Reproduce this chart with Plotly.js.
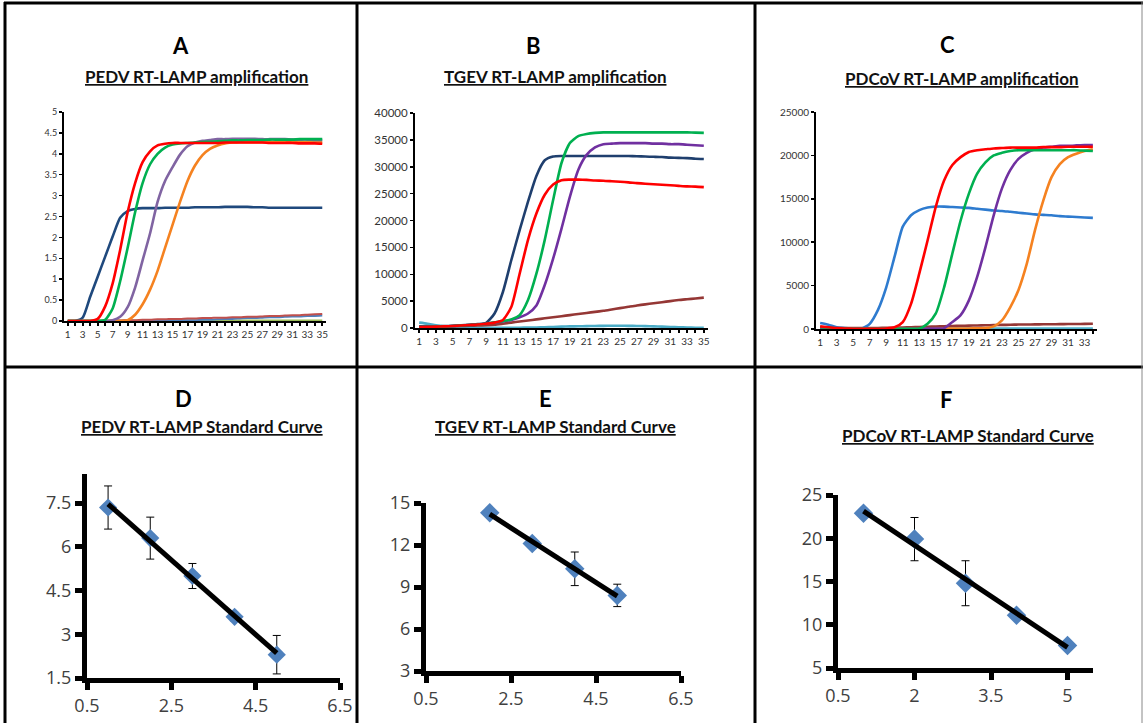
<!DOCTYPE html>
<html>
<head>
<meta charset="utf-8">
<script src="https://cdn.plot.ly/plotly-3.0.1.min.js"></script>
<style>html,body{margin:0;padding:0;background:#fff;}#chart{width:1147px;height:723px;}</style>
</head>
<body>
<div id="chart"></div>
<script>
// ---------- DATA ----------
// Panel A: PEDV RT-LAMP amplification (cycles 1..35)
const cyclesA = [1,2,3,4,5,6,7,8,9,10,11,12,13,14,15,16,17,18,19,20,21,22,23,24,25,26,27,28,29,30,31,32,33,34,35];
const A_navy   = [0,0,0.08,0.58,1.06,1.54,2.02,2.47,2.63,2.68,2.7,2.7,2.7,2.71,2.71,2.71,2.71,2.72,2.72,2.72,2.72,2.73,2.73,2.73,2.73,2.72,2.72,2.71,2.71,2.71,2.71,2.71,2.71,2.71,2.71];
const A_red    = [0,0,0,0,0.05,0.35,0.9,1.7,2.6,3.3,3.8,4.06,4.2,4.24,4.26,4.26,4.26,4.26,4.26,4.26,4.26,4.27,4.27,4.27,4.27,4.27,4.27,4.26,4.26,4.26,4.26,4.25,4.25,4.25,4.24];
const A_green  = [0,0,0,0,0,0.03,0.3,0.95,1.75,2.6,3.3,3.75,4.0,4.15,4.22,4.25,4.26,4.27,4.28,4.29,4.3,4.31,4.32,4.32,4.33,4.33,4.33,4.34,4.34,4.34,4.34,4.35,4.35,4.35,4.35];
const A_purple = [0,0,0,0,0,0,0.02,0.1,0.33,0.8,1.45,2.1,2.85,3.35,3.68,3.98,4.18,4.27,4.31,4.33,4.35,4.35,4.36,4.36,4.36,4.36,4.35,4.35,4.35,4.35,4.34,4.34,4.34,4.33,4.33];
const A_orange = [0,0,0,0,0,0,0,0,0.02,0.15,0.4,0.75,1.2,1.75,2.3,2.85,3.35,3.72,3.97,4.12,4.2,4.25,4.27,4.28,4.28,4.28,4.28,4.28,4.28,4.28,4.28,4.28,4.28,4.28,4.28];
const A_brown  = [0,0,0,0,0,0,0.01,0.01,0.02,0.02,0.03,0.03,0.04,0.04,0.05,0.05,0.06,0.06,0.07,0.07,0.08,0.08,0.09,0.09,0.1,0.1,0.11,0.12,0.12,0.13,0.14,0.14,0.15,0.16,0.17];
const A_steel  = [0,0,0,0,0,0,0,0,0,0,0,0,0,0,0.01,0.01,0.02,0.02,0.03,0.03,0.04,0.05,0.05,0.06,0.07,0.07,0.08,0.09,0.09,0.1,0.11,0.11,0.12,0.12,0.13];
const A_lgreen = [0.01,0.01,0.01,0.01,0.01,0.01,0.01,0.01,0.01,0.01,0.01,0.01,0.01,0.01,0.01,0.01,0.01,0.01,0.01,0.01,0.01,0.01,0.01,0.01,0.01,0.01,0.01,0.01,0.01,0.01,0.01,0.01,0.01,0.01,0.01];
const yTicksA = [0,0.5,1,1.5,2,2.5,3,3.5,4,4.5,5];

// Panel B: TGEV RT-LAMP amplification (cycles 1..35)
const cyclesB = [1,2,3,4,5,6,7,8,9,10,11,12,13,14,15,16,17,18,19,20,21,22,23,24,25,26,27,28,29,30,31,32,33,34,35];
const B_navy   = [300,300,320,350,400,480,600,720,950,2700,6700,12600,18200,23500,28300,31200,31900,32000,32000,32000,32000,32000,32000,32000,32000,32000,31950,31900,31850,31800,31700,31650,31600,31500,31450];
const B_red    = [200,220,250,300,380,470,560,650,800,1000,1500,3900,10100,16400,21300,24800,26700,27500,27600,27600,27550,27450,27400,27300,27200,27100,26950,26850,26750,26650,26550,26450,26350,26300,26200];
const B_green  = [200,220,250,300,380,470,560,650,800,1050,1300,1600,2400,5200,10100,16400,23800,30700,34400,35700,36100,36300,36400,36400,36400,36400,36400,36400,36400,36400,36400,36400,36400,36350,36300];
const B_purple = [200,220,250,300,380,470,560,650,800,1000,1200,1500,2000,2700,4200,8000,12900,18500,24400,29400,32200,33600,34200,34300,34400,34400,34400,34400,34300,34300,34200,34200,34100,34000,33900];
const B_brown  = [200,220,250,280,320,370,420,470,520,620,800,1000,1200,1400,1600,1800,2000,2200,2400,2600,2800,3000,3200,3450,3700,3950,4200,4400,4600,4800,5000,5200,5350,5500,5650];
const B_teal   = [1000,800,500,300,200,120,80,50,30,20,20,30,50,80,100,150,200,250,300,320,350,380,400,420,420,400,380,350,300,250,200,150,100,50,30];
const yTicksB = [0,5000,10000,15000,20000,25000,30000,35000,40000];

// Panel C: PDCoV RT-LAMP amplification (cycles 1..34)
const cyclesC = [1,2,3,4,5,6,7,8,9,10,11,12,13,14,15,16,17,18,19,20,21,22,23,24,25,26,27,28,29,30,31,32,33,34];
const C_blue   = [700,500,200,100,50,20,600,2200,4800,8300,11800,13100,13700,14000,14100,14100,14050,14000,13950,13850,13750,13650,13600,13500,13400,13300,13200,13150,13100,13000,12950,12900,12850,12800];
const C_red    = [300,200,100,50,30,20,20,30,60,200,800,2900,6400,10200,14100,17100,18900,19800,20400,20600,20700,20800,20850,20900,20900,20900,20900,20950,20950,20950,21000,21000,21000,21000];
const C_green  = [200,150,80,40,20,10,10,10,10,10,20,30,50,600,1800,4800,8700,12500,15600,17900,19200,20000,20300,20500,20600,20600,20600,20600,20600,20600,20600,20600,20550,20500];
const C_purple = [150,100,60,30,20,10,10,10,10,10,10,20,30,40,50,100,800,1600,3300,6000,9400,13100,16200,18300,19600,20300,20700,20900,21000,21100,21100,21150,21200,21200];
const C_orange = [100,80,50,30,20,10,10,10,10,10,10,20,20,30,30,40,40,50,60,80,100,300,1000,2500,4500,7500,11400,14800,17500,19000,19800,20200,20500,20700];
const C_brown  = [200,180,150,120,100,100,110,120,130,150,180,200,230,260,290,320,350,370,390,410,430,450,470,490,510,520,530,540,550,560,570,580,590,600];
const C_cyan   = [60,60,60,60,60,60,60,60,60,60,60,60,60,60,60,60,60,60,60,60,60,60,60,60,60,60,60,60,60,60,60,60,60,60];
const yTicksC = [0,5000,10000,15000,20000,25000];

// Panel D: PEDV standard curve
const D_x = [1,2,3,4,5];
const D_y = [7.35,6.3,5.0,3.6,2.3];
const D_err = [0.74,0.72,0.43,0.15,0.66];
const D_xticks = [0.5,2.5,4.5,6.5];
const D_yticks = [1.5,3,4.5,6,7.5];

// Panel E: TGEV standard curve
const E_x = [2,3,4,5];
const E_y = [14.3,12.1,10.3,8.4];
const E_err = [0.3,0.35,1.2,0.8];
const E_xticks = [0.5,2.5,4.5,6.5];
const E_yticks = [3,6,9,12,15];

// Panel F: PDCoV standard curve
const F_x = [1,2,3,4,5];
const F_y = [22.9,19.9,14.8,11.1,7.6];
const F_err = [0.4,2.5,2.6,0.5,0.3];
const F_xticks = [0.5,2,3.5,5];
const F_yticks = [5,10,15,20,25];

const letters = ['A','B','C','D','E','F'];
const subtitles = ['PEDV RT-LAMP amplification','TGEV RT-LAMP amplification','PDCoV RT-LAMP amplification',
                   'PEDV RT-LAMP Standard Curve','TGEV RT-LAMP Standard Curve','PDCoV RT-LAMP Standard Curve'];

// ---------- LAYOUT HELPERS ----------
const W = 1147, H = 723;
const fx = p => p / W;
const fy = p => 1 - p / H;

function oddLabels(cats){ return cats.map(c => (c % 2 === 1) ? String(c) : ''); }

function ampX(anchor, l, r, cats){
  return {anchor: anchor, domain:[fx(l), fx(r)], range:[0.5, cats.length + 0.5],
    tickmode:'array', tickvals: cats, ticktext: oddLabels(cats),
    showline:true, linecolor:'#000', linewidth:2, ticks:'outside', ticklen:3, tickwidth:2, tickcolor:'#000',
    showgrid:false, zeroline:false, fixedrange:true,
    tickfont:{family:'Lato, Liberation Sans, sans-serif', size:10, color:'#333'}};
}
function ampY(anchor, top, bot, max, ticks, fs, fmt){
  return {anchor: anchor, domain:[fy(bot), fy(top)], range:[0, max],
    tickmode:'array', tickvals: ticks, tickformat: fmt,
    showline:true, linecolor:'#000', linewidth:2, ticks:'outside', ticklen:3, tickwidth:1.5, tickcolor:'#000',
    showgrid:false, zeroline:false, fixedrange:true,
    tickfont:{family:'Lato, Liberation Sans, sans-serif', size:fs, color:'#333'}};
}
function stdX(anchor, l, r, range, ticks){
  return {anchor: anchor, domain:[fx(l), fx(r)], range: range,
    tickmode:'array', tickvals: ticks,
    showline:true, linecolor:'#000', linewidth:5, ticks:'outside', ticklen:7, tickwidth:5, tickcolor:'#000',
    showgrid:false, zeroline:false, fixedrange:true,
    tickfont:{family:'Open Sans, DejaVu Sans, sans-serif', size:18, color:'#404040'}};
}
function stdY(anchor, top, bot, range, ticks){
  return {anchor: anchor, domain:[fy(bot), fy(top)], range: range,
    tickmode:'array', tickvals: ticks,
    showline:true, linecolor:'#000', linewidth:5, ticks:'outside', ticklen:7, tickwidth:5, tickcolor:'#000',
    showgrid:false, zeroline:false, fixedrange:true,
    tickfont:{family:'Open Sans, DejaVu Sans, sans-serif', size:18, color:'#404040'}};
}

function line(x, y, color, xa, ya, w){
  return {type:'scatter', mode:'lines', x:x, y:y, xaxis:xa, yaxis:ya,
    line:{color:color, width:w || 2.6, shape:'spline', smoothing:0.6}, hoverinfo:'skip', showlegend:false};
}
function fitLine(xs, ys){
  const n = xs.length;
  const mx = xs.reduce((a,b)=>a+b,0)/n, my = ys.reduce((a,b)=>a+b,0)/n;
  let sxy=0, sxx=0;
  for(let i=0;i<n;i++){ sxy += (xs[i]-mx)*(ys[i]-my); sxx += (xs[i]-mx)*(xs[i]-mx); }
  const b = sxy/sxx, a = my - b*mx;
  const x0 = Math.min(...xs), x1 = Math.max(...xs);
  return {x:[x0,x1], y:[a+b*x0, a+b*x1]};
}
function stdTraces(xs, ys, errs, xa, ya, msize){
  const f = fitLine(xs, ys);
  return [
    {type:'scatter', mode:'markers', x:xs, y:ys, xaxis:xa, yaxis:ya,
      marker:{symbol:'diamond', size:msize, color:'#4F81BD'},
      error_y:{type:'data', array:errs, visible:true, color:'#000', thickness:1, width:4},
      cliponaxis:false, hoverinfo:'skip', showlegend:false},
    {type:'scatter', mode:'lines', x:f.x, y:f.y, xaxis:xa, yaxis:ya,
      line:{color:'#000', width:5}, hoverinfo:'skip', showlegend:false}
  ];
}

// ---------- TRACES ----------
const traces = [
  line(cyclesA, A_lgreen, '#9BBB59', 'x', 'y', 2),
  line(cyclesA, A_steel, '#4F81BD', 'x', 'y', 2),
  line(cyclesA, A_brown, '#C0504D', 'x', 'y', 2),
  line(cyclesA, A_navy, '#1F497D', 'x', 'y'),
  line(cyclesA, A_orange, '#F58220', 'x', 'y'),
  line(cyclesA, A_purple, '#8064A2', 'x', 'y'),
  line(cyclesA, A_green, '#00B050', 'x', 'y'),
  line(cyclesA, A_red, '#FF0000', 'x', 'y'),

  line(cyclesB, B_teal, '#4BACC6', 'x2', 'y2'),
  line(cyclesB, B_brown, '#953735', 'x2', 'y2'),
  line(cyclesB, B_navy, '#1F3F6E', 'x2', 'y2'),
  line(cyclesB, B_purple, '#7030A0', 'x2', 'y2'),
  line(cyclesB, B_green, '#00B050', 'x2', 'y2'),
  line(cyclesB, B_red, '#FF0000', 'x2', 'y2'),

  line(cyclesC, C_cyan, '#4BACC6', 'x3', 'y3'),
  line(cyclesC, C_brown, '#953735', 'x3', 'y3'),
  line(cyclesC, C_blue, '#2E7BCF', 'x3', 'y3'),
  line(cyclesC, C_orange, '#F58220', 'x3', 'y3'),
  line(cyclesC, C_purple, '#7030A0', 'x3', 'y3'),
  line(cyclesC, C_green, '#00B050', 'x3', 'y3'),
  line(cyclesC, C_red, '#FF0000', 'x3', 'y3'),
].concat(
  stdTraces(D_x, D_y, D_err, 'x4', 'y4', 14),
  stdTraces(E_x, E_y, E_err, 'x5', 'y5', 15),
  stdTraces(F_x, F_y, F_err, 'x6', 'y6', 15)
);

// ---------- ANNOTATIONS (titles) ----------
const letterPos = [[180,45],[533,45],[947,44],[183,398],[545,398],[946,399]];
const subPos = [[196,77],[555,77],[962,78],[202,426],[555,426],[968,435]];
const annotations = [];
letters.forEach((t,i)=>{
  annotations.push({text:'<b>'+t+'</b>', x:fx(letterPos[i][0]), y:fy(letterPos[i][1]), xref:'paper', yref:'paper',
    xanchor:'center', yanchor:'middle', showarrow:false,
    font:{family:'Lato, Liberation Sans, sans-serif', size:22, color:'#000'}});
});
subtitles.forEach((t,i)=>{
  annotations.push({text:'<b><u>'+t+'</u></b>', x:fx(subPos[i][0]), y:fy(subPos[i][1]), xref:'paper', yref:'paper',
    xanchor:'center', yanchor:'middle', showarrow:false,
    font:{family:'Lato, Liberation Sans, sans-serif', size:17, color:'#111'}});
});

// ---------- BORDERS ----------
const bl = (x0,y0,x1,y1,w,c)=>({type:'line', xref:'paper', yref:'paper', x0:fx(x0), y0:fy(y0), x1:fx(x1), y1:fy(y1),
  line:{color:c||'#000', width:w}});
const shapes = [
  bl(4,3,1143,3,3),
  bl(5,2,5,723,3),
  bl(357,2,357,723,3),
  bl(755,2,755,723,3),
  bl(4,367,1143,367,3),
  bl(1142,2,1142,723,1,'#888'),
];

const layout = {
  width: W, height: H, margin:{l:0,r:0,t:0,b:0},
  paper_bgcolor:'#fff', plot_bgcolor:'rgba(0,0,0,0)', showlegend:false,
  xaxis:  ampX('y', 64, 326, cyclesA),
  yaxis:  ampY('x', 112, 321, 5, yTicksA, 9, ''),
  xaxis2: ampX('y2', 415, 708, cyclesB),
  yaxis2: ampY('x2', 113, 328, 40000, yTicksB, 11.5, 'd'),
  xaxis3: ampX('y3', 816, 1097, cyclesC),
  yaxis3: ampY('x3', 112, 329, 25000, yTicksC, 10, 'd'),
  xaxis4: stdX('y4', 87, 340, [0.5,6.5], D_xticks),
  yaxis4: stdY('x4', 474, 678, [1.5,8.5], D_yticks),
  xaxis5: stdX('y5', 426, 681, [0.5,6.5], E_xticks),
  yaxis5: stdY('x5', 503, 671, [3,15], E_yticks),
  xaxis6: stdX('y6', 838, 1093, [0.5,5.5], F_xticks),
  yaxis6: stdY('x6', 495, 668, [5,25], F_yticks),
  annotations: annotations,
  shapes: shapes
};

Plotly.newPlot('chart', traces, layout, {displayModeBar:false, staticPlot:true});
</script>
</body>
</html>
